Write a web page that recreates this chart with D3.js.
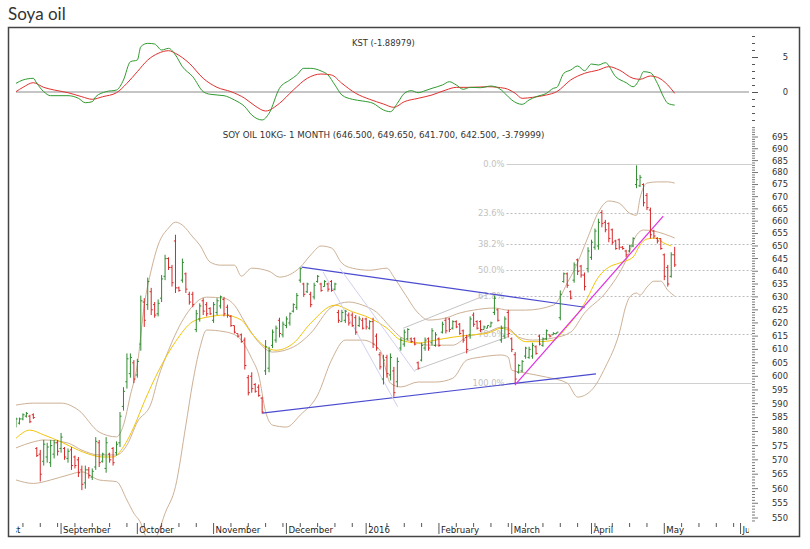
<!DOCTYPE html>
<html>
<head>
<meta charset="utf-8">
<script src="https://cdn.jsdelivr.net/npm/d3@7"></script>
<style>
  body { margin: 0; background: #fff; }
  text { font-family: "DejaVu Sans", sans-serif; }
</style>
</head>
<body>
<script>
// ---- data ----
const calendarStart = new Date(2015, 7, 3);
const calendarEnd = new Date(2016, 6, 1);
const firstBarDate = new Date(2015, 7, 13);

// daily bars from 13 Aug 2015, one per trading day: [open, high, low, close]
const bars = [
  [582.5,585,581.5,584.5],[583,585,582.5,584.5],[584.5,586.5,584,586],[585.5,587,585,586.5],[585.5,586,583,583.5],[586,586.5,584.5,585],
  [574,574.5,571,571.5],[572,573.5,562.5,565],[569.5,577,568,575.5],[571,576,569,574.5],[569,577,567.5,575],[572,577,570.5,576],[576,577,571.5,573],
  [574,579.5,572.5,578],[574,574.5,570,571],[570.5,574,569,573],[573.5,574.5,566.5,568],[571,571.5,567,568],[570,571,564,565.5],[566.5,568,559.5,561.5],
  [562,568,560,566.5],[566.5,567.5,563.5,564.5],[564,567,563,566],[567.5,578,566.5,576.5],[576,577,567.5,569],[569.5,572.5,569,572],[567,578,565.5,576],
  [572,572.5,569,570],[574,574.5,568,569],[572.5,576.5,571.5,575.5],[576,587,574.5,585.5],[589,596,587.5,594.5],[598,608.5,595.5,606.5],[601,608.5,599.5,607],
  [605,606,597.5,599],[600.5,606.5,599.5,605.5],[612,630.5,609.5,628.5],[628,629.5,618.5,621],[627,637.5,625,636],[632,633.5,623,625],[627,628,622,623],
  [623.5,629,622.5,627.5],[629.5,638.5,628,637],[638,646.5,636.5,645],[645,645.5,640.5,641.5],[641.5,642.5,634,635.5],[652,654.5,631.5,633.5],[633.5,634,632,632.5],
  [636.5,645,635.5,643.5],[639,639.5,631.5,633],[631,632,627,628],[631,632,626,627],[617.5,625,616.5,623.5],[621.5,627.5,620.5,626.5],[628.5,629.5,623,624.5],
  [627,628,622.5,623.5],[625.5,626,623,623.5],[621,628,620,627],[624,629.5,623,628.5],[626.5,630.5,625.5,630],[629,630,622.5,623.5],[626,627,622,623],
  [622.5,623,618.5,619],[619,619,616,616.5],[616,616,614.5,615],[615.5,616,612.5,613],[613.5,614.5,602.5,604],[599.5,600.5,593,594],[600,601.5,594,595.5],
  [597,597.5,594,594.5],[596,597,592.5,593],[592,592.5,586.5,587],[602,613.5,600.5,611],[603,611,601.5,609.5],[611.5,617.5,610.5,616.5],[613.5,619,612.5,618],
  [621,622,614.5,616],[615.5,620.5,614.5,619.5],[619,622.5,618,621.5],[620,624,619,623.5],[624.5,627.5,624,627],[626,631.5,625,630.5],[636.5,641.5,635.5,641],
  [635,635.5,630,631],[632,635.5,631.5,635],[631,632,626,627],[630,635.5,629,634.5],[636,638.5,635.5,638],[635,635.5,632,632.5],[634,636.5,634,636],
  [635,635.5,632,633],[636,636.5,632,632.5],[633,635.5,632.5,635],[624,625,620,621],[620.5,625,620.5,624],[621,625,620,624.5],[623,624,619,620],
  [623,624,618.5,619],[622,623,615.5,616.5],[619,622.5,618.5,621.5],[621,622,617.5,618],[621.5,622,617.5,618.5],[618,621,617.5,620.5],[620.5,622,610.5,612],
  [615,616,609.5,610.5],[608,609,602.5,603.5],[599,608,597,606],[607,608,599.5,601],[600.5,608.5,598.5,607],[602,603.5,592.5,594],[598,607,596,605.5],
  [610.5,614.5,609.5,613.5],[612,617.5,611,616.5],[614,618,613.5,617.5],[614,614.5,612.5,613],[614,614.5,611.5,612],[605,605.5,602.5,603],[606,612.5,605.5,611.5],
  [610.5,614.5,609.5,613.5],[614,614.5,609.5,610.5],[612.5,618,611.5,617],[611.5,616.5,611,615.5],[614,614.5,611,611.5],[616.5,620.5,616,619.5],[621,622,616,617],
  [621.5,622,616.5,617.5],[618,621,617.5,620.5],[620.5,621,618,618.5],[619.5,620,615.5,616],[617,617.5,612.5,613.5],[614.5,615.5,608.5,610],[615.5,622.5,614,621.5],
  [623,624,618.5,619.5],[620.5,621,617.5,618],[620.5,621,616.5,617.5],[617.5,619,617.5,618.5],[618,619,618,619],[618.5,620.5,618.5,620],[624,630.5,623,629.5],
  [625,625.5,620.5,621],[613.5,619,612.5,618],[615,622.5,614,621.5],[624,625,614.5,616],[614,614.5,609,610],[608,609,597.5,599],[601.5,604.5,601,604],
  [602,606,601.5,605.5],[607.5,611,606.5,610.5],[607,611,606.5,610],[607.5,612.5,606.5,611.5],[611,611.5,608,608.5],[615,615.5,611.5,612],[611.5,614.5,611,614],
  [614,617.5,613.5,617],[615.5,615.5,614.5,615],[615.5,616.5,615.5,616],[616,616.5,616,616.5],[622,632.5,621,631],[636,639.5,635.5,639],[639,639.5,633.5,634.5],
  [632,632.5,629,629.5],[636.5,643.5,635.5,642.5],[644.5,645,638.5,640],[642,642.5,637.5,638.5],[638.5,639.5,632.5,634],[641,649.5,639.5,648],[645.5,652.5,644.5,651.5],
  [649.5,657,648.5,656],[650,661,648.5,659.5],[663.5,664.5,657.5,659],[659.5,660.5,655.5,656.5],[659,659.5,651.5,653],[656.5,657,650.5,651.5],[652,652.5,648.5,649],
  [652.5,653,648.5,649.5],[649.5,650,648.5,649],[648,648.5,645.5,646.5],[648,650.5,647.5,650],[650,653.5,649.5,653],[675,683,673.5,677],[674.5,679,674,678],
  [675,675.5,666,667.5],[670.5,671.5,664.5,665.5],[664.5,665.5,653,654.5],[656,656.5,653,654],[653,653.5,651,652],[653,653,648.5,649],[646.5,647,636.5,638],
  [641.5,642.5,634,635],[638,647.5,637.5,646.5],[646.5,649.65,641.7,642.5]
];

// overlays: [bar number, price]
const upperBand = [[0,589.5],[5,590.2],[13,590.2],[18,587.7],[24,579.8],[29,578.1],[31,582.3],[33,593.1],[35,604.2],[37,626.8],[39,640.4],[41,650.4],
  [44,657.2],[46,659.6],[48,658.4],[51,653.6],[53,650.4],[56,643.6],[59,642.4],[63,642.4],[65,638.1],[68,641.2],[73,640],[76,637.7],[82,641.6],[85,646.4],
  [88,650],[91,649.2],[94,643.2],[97,641.2],[102,640.4],[107,641.2],[109,637.7],[112,631.5],[116,623.8],[119,621.1],[124,621.9],[128,623.8],[132,624.9],
  [138,625.7],[142,624.9],[147,624.9],[155,626.8],[157,630],[159,635.4],[161,640.4],[165,653.6],[168,663.7],[171,668.2],[174,667.3],[177,663.2],[179,662.4],
  [180,669.4],[182,675.6],[185,676.1],[188,676.1],[190,675.6]];
const lowerBand = [[0,563],[5,561.8],[10,563],[15,564.7],[19,565.8],[24,563],[29,562.4],[32,556.1],[34,551.6],[36,548.2],[37,545],[39,541],[41,545],
  [43,551.6],[46,560.7],[49,582.3],[51,597.9],[53,610.3],[55,617.3],[60,616.7],[64,614.8],[68,606.6],[70,600.5],[72,587.1],[74,582.3],[78,581.6],[82,585.9],
  [87,593.1],[91,606],[95,613.5],[100,613.5],[105,609.7],[108,597.5],[111,596.1],[116,597.9],[121,597.9],[126,599.3],[130,606],[134,607.1],[140,607.9],
  [142,607.1],[143,602.3],[147,601.2],[153,599.7],[159,597.5],[162,592.4],[166,594.9],[170,603.4],[174,616.1],[176,626.8],[177,629.9],[179,631.5],[180,630.7],
  [182,633.8],[184,636.1],[186,636.1],[188,632.6],[190,630.3]];
const middleBand = [[0,574.2],[5,576.3],[8,577],[15,575.9],[19,573.4],[24,571.7],[29,571.7],[32,575.2],[35,583.4],[39,590.2],[41,599.3],[44,609.7],
  [49,623],[55,629.9],[60,629.5],[63,626.8],[66,620.3],[70,612.7],[74,609],[80,610.9],[85,616.1],[91,626],[96,628],[100,626.8],[104,624.1],[108,618.4],
  [111,614.6],[116,612.4],[119,611.6],[126,611.6],[130,614.6],[136,616.5],[140,618.4],[142,618],[145,614.6],[149,613.5],[155,614.3],[160,616.5],[164,623.8],
  [170,631.5],[176,644.4],[179,654.4],[181,656.4],[184,656],[187,654.8],[190,653.2]];
const movingAverage = [[0,577.6],[4,580.5],[8,578.8],[13,576.3],[18,573.4],[21,572],[25,571],[28,571],[31,574.6],[34,581.6],[37,590.7],[41,601.7],
  [46,612.9],[51,620.5],[56,622.4],[60,623],[65,621.1],[68,616],[72,610.9],[75,609.7],[80,612.3],[85,619.9],[92,626.8],[97,624.3],[102,621.9],[107,618],
  [111,613.5],[116,612.4],[121,613.5],[126,614.6],[131,615.4],[136,616.1],[140,618],[142,617.3],[147,612.9],[151,612.9],[155,613.5],[159,618.6],[164,627.5],
  [168,637.7],[171,641.6],[174,643.2],[178,645.6],[180,650.4],[182,652.8],[185,653.2],[186,652],[189,650]];

// KST and its signal line: [bar number, value]
const kst = [[0,1.25],[2,1.73],[5,1.97],[6,1.25],[8,0.05],[10,-0.53],[15,-0.53],[18,-0.91],[20,-1.54],[22,-1.4],[23,-0.68],[26,0.05],[29,0.29],
  [31,1.73],[33,4.37],[35,4.61],[36,6.53],[38,7.01],[40,6.92],[42,6.05],[44,6.29],[46,5.33],[48,3.65],[51,2.2],[54,0.05],[56,-0.33],[60,-0.53],[63,-1.15],
  [66,-2.12],[68,-3.31],[71,-4.03],[73,-3.07],[76,0.53],[79,1.73],[81,2.45],[83,3.41],[85,3.41],[88,3.03],[90,2.45],[92,1.01],[94,-0.43],[97,-1.05],
  [100,-1.3],[103,-1.63],[106,-2.59],[108,-2.84],[110,-1.63],[112,-0.2],[114,0.19],[116,-0.1],[118,0.19],[120,0.53],[123,1.01],[125,1.48],[127,1.01],
  [129,0.39],[131,0.67],[134,0.62],[137,0.86],[140,0.29],[141,-0.19],[143,-1.15],[146,-1.78],[148,-1.15],[150,-0.68],[153,-0.19],[155,0.53],[156,0.67],
  [158,2.69],[160,3.17],[162,3.75],[164,3.07],[166,4.03],[168,3.89],[170,4.22],[173,2.2],[176,1.34],[178,0.76],[180,1.97],[181,2.93],[183,2.78],
  [185,1.25],[187,-0.91],[188,-1.63],[190,-1.89]];
const kstSignal = [[0,0.05],[2,0.67],[5,1.34],[8,0.67],[11,0.29],[15,-0.1],[19,-0.68],[22,-1.05],[25,-0.68],[29,-0.1],[32,1.25],[35,2.93],[38,4.61],
  [41,5.57],[44,5.95],[46,5.57],[50,4.13],[54,1.97],[58,0.67],[62,0.05],[66,-0.91],[69,-2.02],[72,-2.74],[76,-1.63],[80,0.29],[84,1.97],[88,2.59],
  [91,2.45],[94,1.25],[98,-0.19],[102,-1.05],[106,-1.73],[109,-2.21],[112,-1.4],[116,-0.91],[120,-0.43],[124,0.29],[127,0.67],[131,0.67],[136,0.76],
  [141,0.53],[144,-0.19],[146,-0.91],[149,-0.77],[153,-0.43],[156,0.05],[160,1.73],[164,2.69],[168,3.17],[171,3.65],[174,3.17],[178,1.97],[180,1.83],
  [183,2.31],[185,2.12],[188,1.01],[190,-0.19]];

// drawn trend lines: [[bar, price], [bar, price]]
const trendLines = [
  { pts: [[71, 586.6], [167.3, 600.9]], color: "#4b4bd0", width: 1.2 },
  { pts: [[82.4, 641.6], [164.1, 626.0]], color: "#4b4bd0", width: 1.2 },
  { pts: [[143.9, 596.8], [186.7, 662.0]], color: "#e030e0", width: 1.2 },
  { pts: [[111.7, 618.0], [136.7, 631.3]], color: "#c4c4c4", width: 1 },
  { pts: [[115.1, 602.3], [142, 614.8]], color: "#c4c4c4", width: 1 },
  { pts: [[88.6, 639.7], [110.1, 588.9]], color: "#d0d0f0", width: 1 },
  { pts: [[93.4, 641.2], [115.1, 601.6]], color: "#d0d0f0", width: 1 }
];

// Fibonacci retracement
const fibHigh = 683.5, fibLow = 597.5, fibFromBar = 141.5;
const fibLevels = [0, 23.6, 38.2, 50, 61.8, 78.6, 100];

const priceTicks = d3.range(549, 700);
const kstTicks = d3.range(-4, 9);
const chartTitle = "Soya oil";
const kstTitle = "KST (-1.88979)";
const priceTitle = "SOY OIL 10KG- 1 MONTH (646.500, 649.650, 641.700, 642.500, -3.79999)";

// ---- layout ----
const W = 810, H = 549;
const left = 16, right = 752;

const days = d3.timeDay.range(calendarStart, calendarEnd).filter(d => d.getDay() % 6 !== 0);
const first = days.findIndex(d => +d === +firstBarDate);

const x = d3.scaleLinear().domain([8, 220.3]).range([left, right]);
const xb = i => x(first + i);
const y = d3.scaleLog().domain([550, 695]).range([518, 137]);
const yk = d3.scaleLinear().domain([0, 5]).range([92, 57.3]);

const svg = d3.select("body").append("svg")
  .attr("width", W).attr("height", H);

const defs = svg.append("defs");
defs.append("clipPath").attr("id", "kclip").append("rect")
  .attr("x", left).attr("y", 28).attr("width", right - left).attr("height", 93);
defs.append("clipPath").attr("id", "pclip").append("rect")
  .attr("x", left).attr("y", 123).attr("width", right - left).attr("height", 413);
defs.append("clipPath").attr("id", "xclip").append("rect")
  .attr("x", left).attr("y", 515).attr("width", 749 - left).attr("height", 22);

svg.append("text")
  .attr("x", 8).attr("y", 20)
  .style("font-family", "Lato, sans-serif").style("font-size", "17px").attr("fill", "#333")
  .text(chartTitle);

svg.append("rect")
  .attr("x", 8.5).attr("y", 27.5).attr("width", 791).attr("height", 509)
  .attr("fill", "none").attr("stroke", "#444").attr("stroke-width", 1.5);

// ---- KST panel ----
const kp = svg.append("g").attr("clip-path", "url(#kclip)");
kp.append("line")
  .attr("x1", left).attr("x2", 749).attr("y1", yk(0)).attr("y2", yk(0))
  .attr("stroke", "#8a8a8a");

const kline = d3.line().x(d => xb(d[0])).y(d => yk(d[1])).curve(d3.curveMonotoneX);
kp.append("path").datum(kstSignal).attr("d", kline)
  .attr("fill", "none").attr("stroke", "#e03030").attr("stroke-width", 1);
kp.append("path").datum(kst).attr("d", kline)
  .attr("fill", "none").attr("stroke", "#2f9a2f").attr("stroke-width", 1);

svg.append("text").attr("x", 352).attr("y", 45.5)
  .style("font-size", "8.4px").attr("fill", "#333").text(kstTitle);

svg.append("g").selectAll("line").data(kstTicks).join("line")
  .attr("x1", 752).attr("x2", d => d % 5 === 0 ? 758 : 755)
  .attr("y1", d => Math.round(yk(d)) + 0.5).attr("y2", d => Math.round(yk(d)) + 0.5)
  .attr("stroke", "#555");
svg.append("g").selectAll("text").data(kstTicks.filter(d => d % 5 === 0)).join("text")
  .attr("x", 788).attr("y", d => yk(d)).attr("dy", "0.35em").attr("text-anchor", "end")
  .style("font-size", "8.4px").attr("fill", "#333").text(d => d);

// ---- price panel ----
const pp = svg.append("g").attr("clip-path", "url(#pclip)");

// fibonacci levels
const fib = fibLevels.map(p => ({ p, v: fibHigh - (fibHigh - fibLow) * p / 100 }));
pp.append("g").selectAll("line").data(fib).join("line")
  .attr("x1", xb(fibFromBar)).attr("x2", right)
  .attr("y1", d => Math.round(y(d.v)) + 0.5).attr("y2", d => Math.round(y(d.v)) + 0.5)
  .attr("stroke", d => (d.p === 0 || d.p === 100) ? "#cfcfcf" : "#bdbdbd")
  .attr("stroke-dasharray", d => (d.p === 0 || d.p === 100) ? null : "2,2");
pp.append("g").selectAll("text").data(fib).join("text")
  .attr("x", xb(fibFromBar) - 2).attr("y", d => y(d.v)).attr("dy", "0.35em")
  .attr("text-anchor", "end").style("font-size", "8.4px").attr("fill", "#c2c2c2")
  .text(d => d.p.toFixed(1) + "%");

// bands and average
const pline = d3.line().x(d => xb(d[0])).y(d => y(d[1])).curve(d3.curveMonotoneX);
[upperBand, lowerBand, middleBand].forEach(s => {
  pp.append("path").datum(s).attr("d", pline)
    .attr("fill", "none").attr("stroke", "#cdb196").attr("stroke-width", 1);
});
pp.append("path").datum(movingAverage).attr("d", pline)
  .attr("fill", "none").attr("stroke", "#f2c40c").attr("stroke-width", 1);

// trend lines
pp.append("g").selectAll("line").data(trendLines).join("line")
  .attr("x1", d => xb(d.pts[0][0])).attr("y1", d => y(d.pts[0][1]))
  .attr("x2", d => xb(d.pts[1][0])).attr("y2", d => y(d.pts[1][1]))
  .attr("stroke", d => d.color).attr("stroke-width", d => d.width);

// OHLC bars
pp.append("g").selectAll("path").data(bars).join("path")
  .attr("d", (d, i) => {
    const cx = xb(i);
    return `M${cx},${y(d[1])}V${y(d[2])}M${cx - 1.6},${y(d[0])}H${cx}M${cx},${y(d[3])}H${cx + 1.6}`;
  })
  .attr("fill", "none")
  .attr("stroke", d => d[3] >= d[0] ? "#2e8b2e" : "#d62828")
  .attr("stroke-width", 1);

svg.append("text").attr("x", 222.7).attr("y", 137.8)
  .style("font-size", "8.7px").attr("fill", "#333").text(priceTitle);

// price axis
svg.append("g").selectAll("line").data(priceTicks).join("line")
  .attr("x1", 752).attr("x2", d => d % 5 === 0 ? 758 : 755)
  .attr("y1", d => y(d)).attr("y2", d => y(d))
  .attr("stroke", "#555").attr("stroke-width", 0.8);
svg.append("g").selectAll("text").data(priceTicks.filter(d => d % 5 === 0 && d >= 550 && d <= 695)).join("text")
  .attr("x", 788).attr("y", d => y(d)).attr("dy", "0.35em").attr("text-anchor", "end")
  .style("font-size", "8.4px").attr("fill", "#333").text(d => d);

// time axis: weekly ticks on Mondays, month markers with names
const monthStarts = days.map((d, i) => ({ d, i }))
  .filter((o, k, a) => k === 0 || a[k - 1].d.getMonth() !== o.d.getMonth());
const mondays = days.map((d, i) => ({ d, i }))
  .filter(o => o.d.getDay() === 1 && !monthStarts.some(m => m.i === o.i));
const xa = svg.append("g").attr("clip-path", "url(#xclip)");
xa.selectAll("line.w").data(mondays).join("line").attr("class", "w")
  .attr("x1", o => x(o.i)).attr("x2", o => x(o.i)).attr("y1", 523).attr("y2", 527)
  .attr("stroke", "#555");
xa.selectAll("line.m").data(monthStarts).join("line").attr("class", "m")
  .attr("x1", o => x(o.i)).attr("x2", o => x(o.i)).attr("y1", 523).attr("y2", 534)
  .attr("stroke", "#555");
xa.selectAll("text").data(monthStarts).join("text")
  .attr("x", o => x(o.i) + 2).attr("y", 533)
  .style("font-size", "8.6px").attr("fill", "#222")
  .text(o => o.d.getMonth() === 0 ? d3.timeFormat("%Y")(o.d) : d3.timeFormat("%B")(o.d));
</script>
</body>
</html>
